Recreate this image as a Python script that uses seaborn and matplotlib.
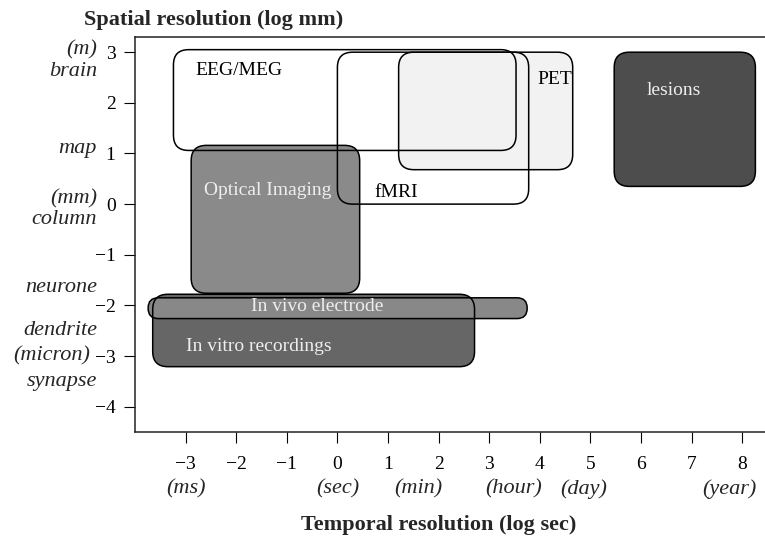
import matplotlib
matplotlib.use("Agg")
import matplotlib.pyplot as plt
import matplotlib.transforms as mtransforms
from matplotlib.patches import FancyBboxPatch
import seaborn as sns

# Techniques and the range each one covers (log10 seconds, log10 mm)
techniques = ["EEG/MEG", "fMRI", "PET", "lesions", "Optical Imaging",
              "In vitro recordings", "In vivo electrode"]
t_min = [-3.24, 0.00, 1.21, 5.47, -2.89, -3.65, -3.74]
t_max = [3.53, 3.78, 4.65, 8.26, 0.44, 2.71, 3.75]
s_min = [1.06, 0.00, 0.68, 0.35, -1.76, -3.21, -2.26]
s_max = [3.05, 3.00, 3.00, 3.00, 1.16, -1.78, -1.85]

x_ticks = [-3, -2, -1, 0, 1, 2, 3, 4, 5, 6, 7, 8]
y_ticks = [-4, -3, -2, -1, 0, 1, 2, 3]

time_units = ["(ms)", "(sec)", "(min)", "(hour)", "(day)", "(year)"]
time_unit_pos = [-3.0, 0.0, 1.6, 3.48, 4.86, 7.75]

scale_words = ["(m)", "brain", "map", "(mm)", "column", "neurone",
               "dendrite", "(micron)", "synapse"]
scale_word_pos = [3.04, 2.62, 1.1, 0.11, -0.3, -1.64, -2.5, -3.0, -3.51]

# Styling for each technique box
fills = {"EEG/MEG": "none", "fMRI": "none", "PET": "#f2f2f2",
         "lesions": "#4d4d4d", "Optical Imaging": "#8a8a8a",
         "In vitro recordings": "#666666", "In vivo electrode": "#888888"}
radius = {"In vivo electrode": 0.2}
label_xy = {"EEG/MEG": (-2.8, 2.64), "fMRI": (0.73, 0.23), "PET": (3.95, 2.46),
            "lesions": (6.12, 2.24), "Optical Imaging": (-2.63, 0.27),
            "In vivo electrode": (-1.7, -2.03),
            "In vitro recordings": (-2.99, -2.82)}
label_color = {"EEG/MEG": "black", "fMRI": "black", "PET": "black",
               "lesions": "#eeeeee", "Optical Imaging": "#eeeeee",
               "In vivo electrode": "#eeeeee",
               "In vitro recordings": "#eeeeee"}

sns.set_theme(style="ticks")
plt.rcParams["font.family"] = ["Liberation Serif", "DejaVu Serif"]
plt.rcParams["font.size"] = 14

fig = plt.figure(figsize=(7.65, 5.39), dpi=100)
ax = fig.add_axes([135 / 765, 1 - 432 / 539, 1 - 135 / 765, (432 - 37) / 539])
ax.set_xlim(-4.0, 8.45)
ax.set_ylim(-4.5, 3.3)

# fills first (stacked in list order), then all outlines on top
for i, name in enumerate(techniques):
    fc = fills[name]
    if fc == "none":
        continue
    r = radius.get(name, 0.3)
    ax.add_patch(FancyBboxPatch((t_min[i], s_min[i]), t_max[i] - t_min[i],
                                s_max[i] - s_min[i],
                                boxstyle=f"round,pad=0,rounding_size={r}",
                                facecolor=fc, edgecolor="none",
                                zorder=2 + 0.01 * i))
for i, name in enumerate(techniques):
    r = radius.get(name, 0.3)
    ax.add_patch(FancyBboxPatch((t_min[i], s_min[i]), t_max[i] - t_min[i],
                                s_max[i] - s_min[i],
                                boxstyle=f"round,pad=0,rounding_size={r}",
                                facecolor="none", edgecolor="black",
                                linewidth=1.1, zorder=3))
    lx, ly = label_xy[name]
    ax.text(lx, ly, name, ha="left", va="center", fontsize=14,
            color=label_color[name], zorder=4)

ax.set_xticks(x_ticks)
ax.set_yticks(y_ticks)
ax.tick_params(axis="both", direction="out", length=8, width=0.8,
               labelsize=14, colors="black")
ax.tick_params(axis="y", pad=6)
ax.tick_params(axis="x", pad=9)
for side in ["left", "bottom", "top"]:
    ax.spines[side].set_linewidth(1.1)
    ax.spines[side].set_color("#222222")
ax.spines["right"].set_visible(False)

# unit words under the temporal axis
tx = mtransforms.blended_transform_factory(ax.transData, fig.transFigure)
for word, pos in zip(time_units, time_unit_pos):
    fig.text(pos, 1 - 489 / 539, word, transform=tx, ha="center",
             va="center", style="italic", fontsize=16)

# scale words beside the spatial axis
ty = mtransforms.blended_transform_factory(fig.transFigure, ax.transData)
for word, pos in zip(scale_words, scale_word_pos):
    xr = 90 / 765 if word == "(micron)" else 97 / 765
    fig.text(xr, pos, word, transform=ty, ha="right", va="center",
             style="italic", fontsize=16)

fig.text(214 / 765, 1 - 20 / 539, "Spatial resolution (log mm)",
         ha="center", va="center", fontweight="bold", fontsize=16)
fig.text(439 / 765, 1 - 525 / 539, "Temporal resolution (log sec)",
         ha="center", va="center", fontweight="bold", fontsize=16)

fig.savefig("out.png", dpi=100, facecolor="white")
